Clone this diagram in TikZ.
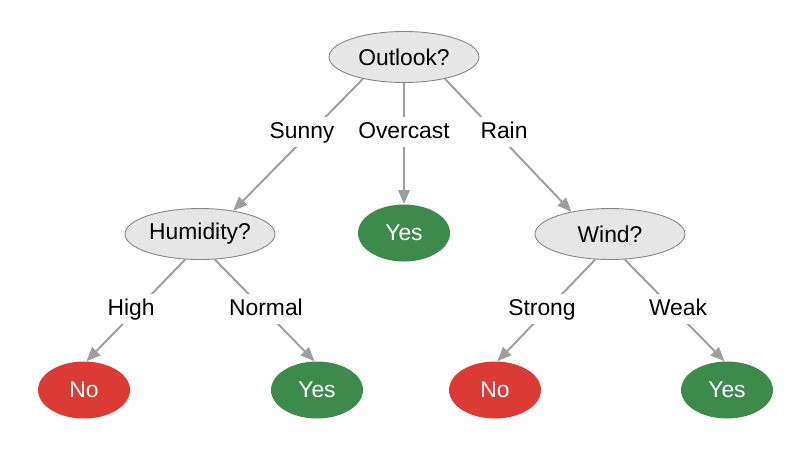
\documentclass[tikz,border=0pt]{standalone}
\usepackage{fontspec}
\setmainfont{Liberation Sans}
\usetikzlibrary{arrows.meta, shapes.geometric}

\definecolor{linegray}{HTML}{9E9E9E}
\definecolor{testgray}{HTML}{E6E6E6}
\definecolor{rimgray}{HTML}{858585}
\definecolor{yesgreen}{HTML}{3D8B4A}
\definecolor{nored}{HTML}{DC3A35}

\tikzset{
    test/.style={ellipse, draw=rimgray, line width=.5pt, fill=testgray,
        minimum width=3cm, minimum height=1.02cm, inner sep=0pt},
    leaf/.style={ellipse, fill=#1, text=white,
        minimum width=1.84cm, minimum height=1.14cm, inner sep=0pt},
    edge/.style={draw=linegray, line width=1.1pt,
        -{Triangle[length=8pt,width=6.5pt]}},
    branch/.style={fill=white, anchor=base, inner sep=2.5pt,
        text height=9.5pt, text depth=2.7pt}
}

\begin{document}
\begin{tikzpicture}[x=0.02cm, y=-0.02cm, font=\fontsize{13}{15}\selectfont]
    \useasboundingbox (0,0) rectangle (796,458);
    % Test nodes
    \foreach \name/\i/\x/\y in {Outlook?/1/404/57, Humidity?/2/200/234, Wind?/3/610/234} {
        \node[test] (Test-\i) at (\x,\y) {\name};
    }
    % Leaves
    \foreach \name/\i/\x/\y/\c in {Yes/1/404/233/yesgreen, No/2/84/390/nored,
        Yes/3/317/390/yesgreen, No/4/495/390/nored, Yes/5/727/390/yesgreen} {
        \node[leaf=\c] (Leaf-\i) at (\x,\y) {\name};
    }
    % Branches
    \foreach \a/\b/\s/\e/\lab/\x/\y in {
        Test-1/Test-2/208/35/Sunny/302/138,
        Test-1/Leaf-1/270/90/Overcast/404/138,
        Test-1/Test-3/332/150/Rain/504/138,
        Test-2/Leaf-2/240/85/High/131/315,
        Test-2/Leaf-3/300/95/Normal/266/315,
        Test-3/Leaf-4/240/85/Strong/542/315,
        Test-3/Leaf-5/300/95/Weak/678/315} {
        \draw[edge] (\a.\s) -- (\b.\e);
        \node[branch] (Branch-\lab) at (\x,\y) {\lab};
    }
\end{tikzpicture}
\end{document}
